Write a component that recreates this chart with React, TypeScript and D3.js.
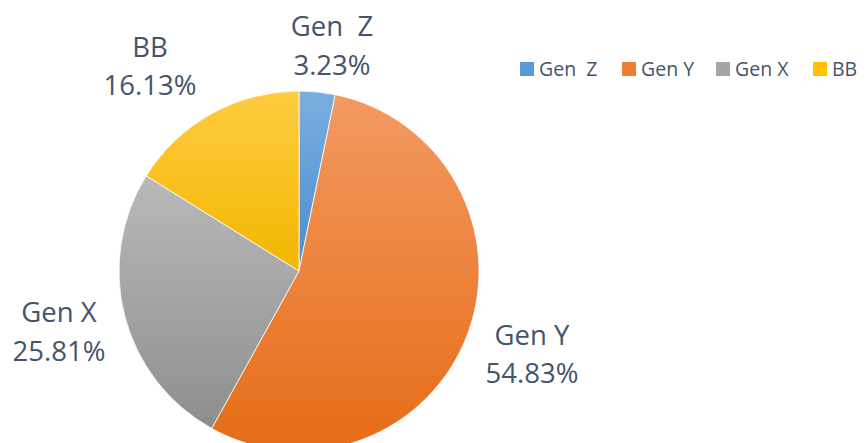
import React from "react";
import * as d3 from "d3";

const categories = ["Gen  Z", "Gen Y", "Gen X", "BB"];
const values = [3.23, 54.83, 25.81, 16.13];
const labelText = ["3.23%", "54.83%", "25.81%", "16.13%"];
const topColors = ["#7AAEE0", "#F39A61", "#B9B9B9", "#FFCB40"];
const bottomColors = ["#4C8CCF", "#E66C17", "#8E8E8E", "#F2B700"];
const baseColors = ["#5B9BD5", "#ED7D31", "#A5A5A5", "#FFC000"];

const W = 866;
const H = 443;
const cx = 299;
const cy = 271;
const R = 180;
const textColor = "#44546A";
const font = "'Open Sans', sans-serif";

// label anchor positions (center of two-line label: name baseline, value baseline)
const labelPos: [number, number, number][] = [
  [332, 36, 75],
  [532, 345, 383],
  [59, 322, 361],
  [150, 57, 95],
];

export default function App() {
  const pie = d3.pie<number>().sort(null).value((d) => d);
  const arcs = pie(values);
  const arc = d3.arc<d3.PieArcDatum<number>>().innerRadius(0).outerRadius(R);

  const legendX = d3.scaleOrdinal<string, number>().domain(categories).range([520, 622, 716, 813]);

  return (
    <svg width={W} height={H} style={{ position: "absolute", left: 0, top: 0, background: "#fff" }}>
      <defs>
        {categories.map((c, i) => (
          <linearGradient key={i} id={`g${i}`} x1="0" y1="0" x2="0" y2="1">
            <stop offset="0%" stopColor={topColors[i]} />
            <stop offset="100%" stopColor={bottomColors[i]} />
          </linearGradient>
        ))}
      </defs>
      <rect width={W} height={H} fill="#fff" />
      <g transform={`translate(${cx},${cy})`}>
        {arcs.map((a, i) => (
          <path key={i} d={arc(a) || ""} fill={`url(#g${i})`} stroke="#fff" strokeWidth={0.8} />
        ))}
      </g>
      {labelPos.map(([x, y1, y2], i) => (
        <g key={i} fill={textColor} fontFamily={font} fontSize={27.5} textAnchor="middle">
          <text x={x} y={y1} style={{ whiteSpace: "pre" }}>{categories[i]}</text>
          <text x={x} y={y2}>{labelText[i]}</text>
        </g>
      ))}
      {categories.map((c, i) => (
        <g key={c}>
          <rect x={legendX(c)} y={62} width={14} height={14} fill={baseColors[i]} />
          <text
            x={legendX(c) + 19}
            y={76}
            fill={textColor}
            fontFamily={font}
            fontSize={19.5}
            style={{ whiteSpace: "pre" }}
          >
            {c}
          </text>
        </g>
      ))}
    </svg>
  );
}
